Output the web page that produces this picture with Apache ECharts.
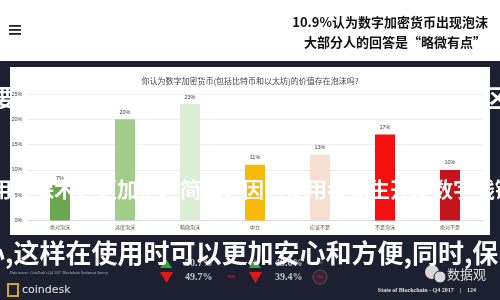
<!DOCTYPE html>
<html><head><meta charset="utf-8">
<script src="https://cdn.jsdelivr.net/npm/echarts@6/dist/echarts.min.js"></script>
<style>html,body{margin:0;padding:0;background:#1c2030;}#c{width:500px;height:300px;}</style>
</head><body><div id="c"></div>
<script>
var categories = ['绝对泡沫','适度泡沫','略微泡沫','中立','应该不是','不是泡沫','绝对不是'];
var values = [7, 20, 23, 11, 13, 17, 10];
var valueLabels = ['7%','20%','23%','11%','13%','17%','10%'];
var barColors = ['#6aa84f','#a2cd8a','#dcefd6','#f8b90b','#f6dfd0','#f5100f','#c4141c'];
var yTicks = [0,5,10,15,20,25];
var headline1 = '10.9%认为数字加密货币出现泡沫';
var headline2 = '大部分人的回答是“略微有点”';
var chartTitle = '你认为数字加密货币(包括比特币和以太坊)的价值存在泡沫吗?';
var overlay1 = '要保护好自己的数字资产就需要选择安全可靠的区';
var overlay2 = '用　保术，更加密、简单，因为使用者无生开发数字钱链';
var overlay3 = '心,这样在使用时可以更加安心和方便,同时,保';
var yesPct = ['50.7%','49.6%'];
var noPct = ['49.7%','39.4%'];

var chart = echarts.init(document.getElementById('c'), null, {renderer:'canvas'});
var cjk = '"Noto Sans CJK SC", "Noto Sans", sans-serif';
var serif = '"Liberation Serif", "DejaVu Serif", serif';

var graphics = [
  {type:'text', z:-20, style:{text:overlay1, x:-6.7, y:98, verticalAlign:'middle', font:'bold 23.4px '+cjk, fill:'#ffffff'}},
  {type:'rect', z:-10, shape:{x:0,y:0,width:500,height:61}, style:{fill:'#ffffff'}},
  {type:'rect', z:-10, shape:{x:10,y:67,width:480,height:168}, style:{fill:'#ffffff'}},
  {type:'rect', z:-9, shape:{x:9,y:25,width:12,height:1.8}, style:{fill:'#222'}},
  {type:'rect', z:-9, shape:{x:9,y:29,width:12,height:1.8}, style:{fill:'#222'}},
  {type:'rect', z:-9, shape:{x:9,y:33,width:12,height:1.8}, style:{fill:'#222'}},
  {type:'text', z:5, style:{text:headline1, x:488, y:22, align:'right', verticalAlign:'middle', font:'bold 13px '+cjk, fill:'#111'}},
  {type:'text', z:5, style:{text:headline2, x:486, y:42, align:'right', verticalAlign:'middle', font:'bold 13px '+cjk, fill:'#111'}},
  {type:'text', z:5, style:{text:chartTitle, x:250, y:81, align:'center', verticalAlign:'middle', font:'8px '+cjk, fill:'#444'}},
  // bottom stats
  {type:'polygon', z:5, shape:{points:[[166,259],[160,268],[172,268]]}, style:{fill:'#3aa53a'}},
  {type:'polygon', z:5, shape:{points:[[255,259],[249,268],[261,268]]}, style:{fill:'#3aa53a'}},
  {type:'polygon', z:5, shape:{points:[[160,272],[173,272],[166.5,283]]}, style:{fill:'#e01818'}},
  {type:'polygon', z:5, shape:{points:[[249,272],[262,272],[255.5,283]]}, style:{fill:'#e01818'}},
  {type:'text', z:5, style:{text:yesPct[0], x:185, y:263, verticalAlign:'middle', font:'bold 10px '+serif, fill:'#c8c8c8'}},
  {type:'text', z:5, style:{text:yesPct[1], x:275, y:263, verticalAlign:'middle', font:'bold 10px '+serif, fill:'#c8c8c8'}},
  {type:'text', z:5, style:{text:noPct[0], x:185, y:277, verticalAlign:'middle', font:'bold 10px '+serif, fill:'#c8c8c8'}},
  {type:'text', z:5, style:{text:noPct[1], x:275, y:277, verticalAlign:'middle', font:'bold 10px '+serif, fill:'#c8c8c8'}},
  {type:'text', z:5, style:{text:'YES', x:226, y:263, verticalAlign:'middle', font:'bold 5px '+serif, fill:'#3aa53a'}},
  {type:'text', z:5, style:{text:'YES', x:313, y:263, verticalAlign:'middle', font:'bold 5px '+serif, fill:'#3aa53a'}},
  {type:'text', z:5, style:{text:'NO', x:228, y:277, verticalAlign:'middle', font:'bold 5px '+serif, fill:'#e01818'}},
  {type:'circle', z:5, shape:{cx:320,cy:277,r:7}, style:{fill:'#3a2030', stroke:'#555', lineWidth:1}},
  {type:'text', z:6, style:{text:'No', x:320, y:277, align:'center', verticalAlign:'middle', font:'bold 5px '+serif, fill:'#e01818'}},
  // source + logos
  {type:'text', z:5, style:{text:"Data source: CoinDesk's Q4 2017 Blockchain Sentiment Survey", x:10, y:273, verticalAlign:'middle', font:'3.8px '+serif, fill:'#bbbbbb'}},
  {type:'rect', z:5, shape:{x:8,y:284,width:10,height:12}, style:{fill:'none', stroke:'#d9a520', lineWidth:2}},
  {type:'text', z:5, style:{text:'coindesk', x:22, y:290, verticalAlign:'middle', font:'11px "DejaVu Sans", sans-serif', fill:'#e8e8e8'}},
  {type:'circle', z:5, shape:{cx:432,cy:272,r:7}, style:{fill:'#d8d8d8'}},
  {type:'circle', z:5, shape:{cx:440,cy:277,r:6}, style:{fill:'#d8d8d8', stroke:'#1c2030', lineWidth:1}},
  {type:'text', z:5, style:{text:'数据观', x:447, y:274, verticalAlign:'middle', font:'13px '+cjk, fill:'#e0e0e0'}},
  {type:'text', z:5, style:{text:'State of Blockchain - Q4 2017    |    124', x:476, y:290, align:'right', verticalAlign:'middle', font:'bold 6px '+serif, fill:'#e0e0e0'}},
  // overlay brush texts
  {type:'text', z:100, style:{text:overlay2, x:-9, y:189, verticalAlign:'middle', font:'bold 21px '+cjk, fill:'#ffffff'}},
  {type:'text', z:100, style:{text:overlay3, x:-21, y:253, verticalAlign:'middle', font:'bold 26px '+cjk, fill:'#ffffff'}}
];

chart.setOption({
  animation:false,
  backgroundColor:'#1c2030',
  grid:{left:27.5, right:17.5, top:94, bottom:79.5},
  xAxis:{type:'category', data:categories,
    axisLine:{show:true, lineStyle:{color:'#dddddd'}}, axisTick:{show:false},
    axisLabel:{fontSize:5, color:'#555', margin:4, fontFamily:'Noto Sans CJK SC'}},
  yAxis:{type:'value', min:0, max:25, interval:5,
    axisLabel:{formatter:'{value}%', fontSize:5.5, color:'#444', margin:5},
    splitLine:{lineStyle:{color:'#eeeeee', width:1}}},
  series:[{type:'bar', barWidth:20,
    data: values.map(function(v,i){return {value:v, itemStyle:{color:barColors[i]}};}),
    label:{show:true, position:'top', distance:4, fontSize:5.5, color:'#444',
      formatter:function(p){return valueLabels[p.dataIndex];}}}],
  graphic: graphics
});
</script></body></html>
